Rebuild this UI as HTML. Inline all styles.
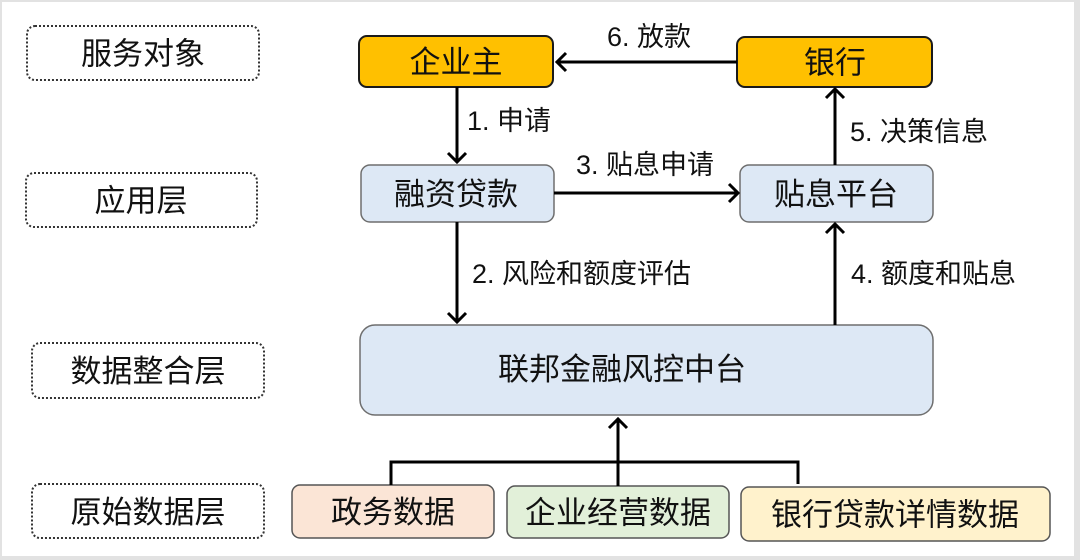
<!DOCTYPE html>
<html>
<head>
<meta charset="utf-8">
<style>
  html, body { margin: 0; padding: 0; background: #ffffff; }
  body { width: 1080px; height: 560px; overflow: hidden; }
  svg { display: block; }
  text { font-family: "Liberation Sans", "Noto Sans CJK SC", "WenQuanYi Zen Hei", sans-serif; fill: #111; }
</style>
</head>
<body>
<svg width="1080" height="560" viewBox="0 0 1080 560" xmlns="http://www.w3.org/2000/svg">
  <!-- outer frame -->
  <rect x="0" y="0" width="1080" height="560" fill="#e2e2e2"/>
  <rect x="2" y="2" width="1072" height="554" fill="#ffffff"/>

  <!-- left dotted layer labels -->
  <g fill="#ffffff" stroke="#333" stroke-width="2" stroke-dasharray="2,2">
    <rect x="27" y="26" width="232" height="54" rx="8"/>
    <rect x="26" y="173" width="231" height="54" rx="8"/>
    <rect x="32" y="343" width="232" height="55" rx="8"/>
    <rect x="32" y="484" width="232" height="54" rx="8"/>
  </g>
  <g font-size="31" text-anchor="middle">
    <text x="143" y="64.5">服务对象</text>
    <text x="141" y="211.5">应用层</text>
    <text x="148" y="382">数据整合层</text>
    <text x="148" y="523">原始数据层</text>
  </g>

  <!-- top yellow nodes -->
  <rect x="359" y="36" width="194" height="51" rx="8" fill="#FFC000" stroke="#1a1a1a" stroke-width="2"/>
  <rect x="737" y="37" width="195" height="50" rx="8" fill="#FFC000" stroke="#1a1a1a" stroke-width="2"/>
  <text x="456" y="73" font-size="31" text-anchor="middle">企业主</text>
  <text x="835" y="73.5" font-size="31" text-anchor="middle">银行</text>

  <!-- application layer nodes -->
  <rect x="361" y="165" width="193" height="57" rx="9" fill="#DDE8F5" stroke="#6e6e6e" stroke-width="1.5"/>
  <rect x="740" y="165" width="193" height="57" rx="9" fill="#DDE8F5" stroke="#6e6e6e" stroke-width="1.5"/>
  <text x="456" y="205" font-size="31" text-anchor="middle">融资贷款</text>
  <text x="836" y="205" font-size="31" text-anchor="middle">贴息平台</text>

  <!-- hub -->
  <rect x="360" y="325" width="573" height="90" rx="15" fill="#DDE8F5" stroke="#6e6e6e" stroke-width="1.5"/>
  <text x="622" y="380" font-size="31" text-anchor="middle">联邦金融风控中台</text>

  <!-- raw data nodes -->
  <rect x="292" y="485" width="202" height="53" rx="8" fill="#FBE5D6" stroke="#555" stroke-width="1.5"/>
  <rect x="507" y="486" width="222" height="52" rx="8" fill="#E2F0D9" stroke="#555" stroke-width="1.5"/>
  <rect x="741" y="487" width="309" height="54" rx="8" fill="#FFF2CC" stroke="#555" stroke-width="1.5"/>
  <g font-size="31" text-anchor="middle">
    <text x="393" y="523">政务数据</text>
    <text x="618" y="523.5">企业经营数据</text>
    <text x="895" y="525.5">银行贷款详情数据</text>
  </g>

  <!-- connectors -->
  <g stroke="#000" stroke-width="3" fill="none" stroke-linejoin="miter">
    <line x1="737" y1="62" x2="557" y2="62"/>
    <polyline points="566,53 557,62 566,71"/>
    <line x1="457" y1="87" x2="457" y2="162"/>
    <polyline points="448,153 457,162 466,153"/>
    <line x1="554" y1="193" x2="738" y2="193"/>
    <polyline points="729,184 738,193 729,202"/>
    <line x1="835" y1="165" x2="835" y2="89"/>
    <polyline points="826,98 835,89 844,98"/>
    <line x1="457" y1="222" x2="457" y2="322"/>
    <polyline points="448,313 457,322 466,313"/>
    <line x1="835" y1="325" x2="835" y2="224"/>
    <polyline points="826,233 835,224 844,233"/>
    <polyline points="391,485 391,462 798,462 798,484"/>
    <line x1="618" y1="486" x2="618" y2="419"/>
    <polyline points="609,428 618,419 627,428"/>
  </g>

  <!-- connector labels -->
  <g font-size="27">
    <text x="607" y="46">6. 放款</text>
    <text x="467" y="130">1. 申请</text>
    <text x="576" y="174">3. 贴息申请</text>
    <text x="850" y="141">5. 决策信息</text>
    <text x="472" y="283">2. 风险和额度评估</text>
    <text x="851" y="283">4. 额度和贴息</text>
  </g>
</svg>
</body>
</html>
